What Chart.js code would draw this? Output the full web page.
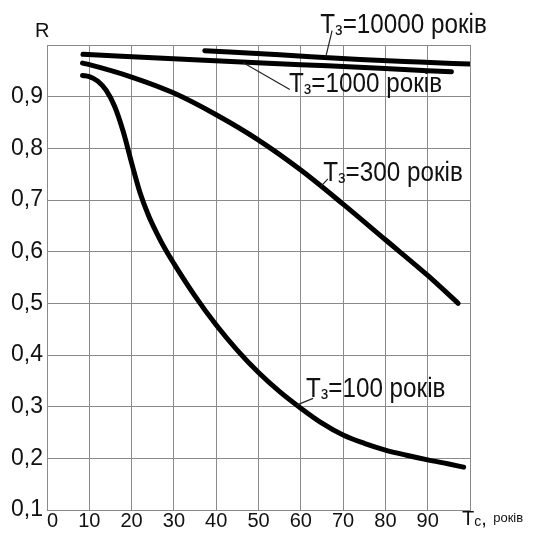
<!DOCTYPE html>
<html>
<head>
<meta charset="utf-8">
<script src="https://cdn.jsdelivr.net/npm/chart.js@4.4.0/dist/chart.umd.min.js"></script>
<style>
  html, body { margin: 0; padding: 0; background: #fff; }
  canvas { display: block; }
</style>
</head>
<body>
<canvas id="reliabilityChart" width="533" height="536"></canvas>
<script>
// R vs Tc, one curve per Tз (років)
const tc100 = [8.4, 10, 12, 14, 16, 18, 20, 22, 24, 26, 28, 30, 35, 40, 45, 50, 55, 60, 65, 70, 75, 80, 85, 90, 95, 98.5];
const r100 = [0.941, 0.939, 0.930, 0.912, 0.881, 0.833, 0.772, 0.714, 0.670, 0.635, 0.604, 0.577, 0.514, 0.458, 0.409, 0.366, 0.329, 0.297, 0.268, 0.245, 0.229, 0.216, 0.206, 0.197, 0.189, 0.183];

const tc300 = [8.4, 10, 20, 30, 40, 50, 60, 70, 80, 90, 97.2];
const r300 = [0.965, 0.962, 0.938, 0.907, 0.865, 0.816, 0.758, 0.692, 0.623, 0.554, 0.500];

const tc1000 = [8.5, 36, 60, 78.7, 95.6];
const r1000 = [0.982, 0.971, 0.962, 0.955, 0.948];

const tc10000 = [37.3, 55, 74, 88, 100];
const r10000 = [0.989, 0.981, 0.972, 0.967, 0.963];

const tzNames = ['100', '300', '1000', '10000'];

// where each "Tз=..." caption sits, and where its leader touches the curve (data units)
const captionSpots = {
    '10000': { text: [64.6, 1.023], from: [65.9, 0.977], to: [67.4, 1.028] },
    '1000': { text: [57.2, 0.909], from: [46.3, 0.966], to: [57.4, 0.914] },
    '300': { text: [65.3, 0.737], from: [64.7, 0.726], to: [66.4, 0.741] },
    '100': { text: [61.2, 0.319], from: [59.0, 0.303], to: [62.9, 0.316] }
};

const FONT = '"Liberation Sans", Arial, sans-serif';

function toPoints(xs, ys) {
    return xs.map((x, i) => ({ x: x, y: ys[i] }));
}

function curve(xs, ys) {
    return {
        data: toPoints(xs, ys),
        borderColor: '#000',
        borderWidth: 5,
        pointRadius: 0,
        fill: false,
        cubicInterpolationMode: 'monotone',
        borderCapStyle: 'round',
        borderJoinStyle: 'round'
    };
}

// glyphs in the scan are a little taller than wide, so stretch vertically
function drawCaption(ctx, x, y, tz) {
    ctx.save();
    ctx.translate(x, y);
    ctx.scale(0.97, 1.1);
    ctx.fillStyle = '#111';
    ctx.textBaseline = 'alphabetic';
    ctx.textAlign = 'left';
    let dx = 0;
    ctx.font = '25px ' + FONT;
    ctx.fillText('T', dx, 0);
    dx += ctx.measureText('T').width;
    ctx.font = '17px ' + FONT;
    ctx.fillText('з', dx, 2);
    dx += ctx.measureText('з').width;
    ctx.font = '25px ' + FONT;
    ctx.fillText('=' + tz + ' років', dx, 0);
    ctx.restore();
}

const captions = {
    id: 'captions',
    afterDraw(chart) {
        const ctx = chart.ctx;
        const sx = chart.scales.x, sy = chart.scales.y;
        ctx.save();
        tzNames.forEach(tz => {
            const spot = captionSpots[tz];
            ctx.strokeStyle = '#222';
            ctx.lineWidth = 1.2;
            ctx.beginPath();
            ctx.moveTo(sx.getPixelForValue(spot.from[0]), sy.getPixelForValue(spot.from[1]));
            ctx.lineTo(sx.getPixelForValue(spot.to[0]), sy.getPixelForValue(spot.to[1]));
            ctx.stroke();
            drawCaption(ctx, sx.getPixelForValue(spot.text[0]), sy.getPixelForValue(spot.text[1]), tz);
        });

        // axis names
        ctx.fillStyle = '#111';
        ctx.textAlign = 'left';
        ctx.textBaseline = 'alphabetic';
        ctx.font = '20px ' + FONT;
        ctx.fillText('R', 35, 37);

        let x = sx.right - 8;
        ctx.font = '20px ' + FONT;
        ctx.fillText('T', x, 525);
        x += ctx.measureText('T').width;
        ctx.font = '14px ' + FONT;
        ctx.fillText('c', x, 526);
        x += ctx.measureText('c').width;
        ctx.font = '20px ' + FONT;
        ctx.fillText(',', x, 525);
        ctx.font = '13px ' + FONT;
        ctx.fillText('років', x + 12, 522);
        ctx.restore();
    }
};

const whiteBg = {
    id: 'whiteBg',
    beforeDraw(chart) {
        const ctx = chart.ctx;
        ctx.save();
        ctx.fillStyle = '#fff';
        ctx.fillRect(0, 0, chart.width, chart.height);
        ctx.restore();
    }
};

const chart = new Chart(document.getElementById('reliabilityChart'), {
    type: 'line',
    data: {
        datasets: [
            curve(tc100, r100),
            curve(tc300, r300),
            curve(tc1000, r1000),
            curve(tc10000, r10000)
        ]
    },
    options: {
        responsive: false,
        animation: false,
        events: [],
        layout: { padding: { top: 45, right: 63, left: 0, bottom: 0 } },
        plugins: {
            legend: { display: false },
            tooltip: { enabled: false },
            title: { display: false }
        },
        scales: {
            x: {
                type: 'linear',
                min: 0,
                max: 100,
                afterFit(scale) { scale.height = 26; },
                grid: { color: '#8a8a8a', lineWidth: 1, drawTicks: false },
                border: { color: '#8a8a8a', width: 1 },
                ticks: {
                    stepSize: 10,
                    padding: 1,
                    align: 'inner',
                    maxRotation: 0,
                    color: '#111',
                    font: { family: FONT, size: 20, lineHeight: 1 },
                    callback: v => (v >= 100 ? '' : String(v))
                }
            },
            y: {
                type: 'linear',
                min: 0.1,
                max: 1.0,
                afterFit(scale) { scale.width = 47; },
                grid: { color: '#8a8a8a', lineWidth: 1, drawTicks: false },
                border: { color: '#8a8a8a', width: 1 },
                ticks: {
                    stepSize: 0.1,
                    padding: 4,
                    color: '#111',
                    font: { family: FONT, size: 23, lineHeight: 1 },
                    callback: v => (v > 0.95 ? '' : v.toFixed(1).replace('.', ','))
                }
            }
        }
    },
    plugins: [whiteBg, captions]
});
</script>
</body>
</html>
